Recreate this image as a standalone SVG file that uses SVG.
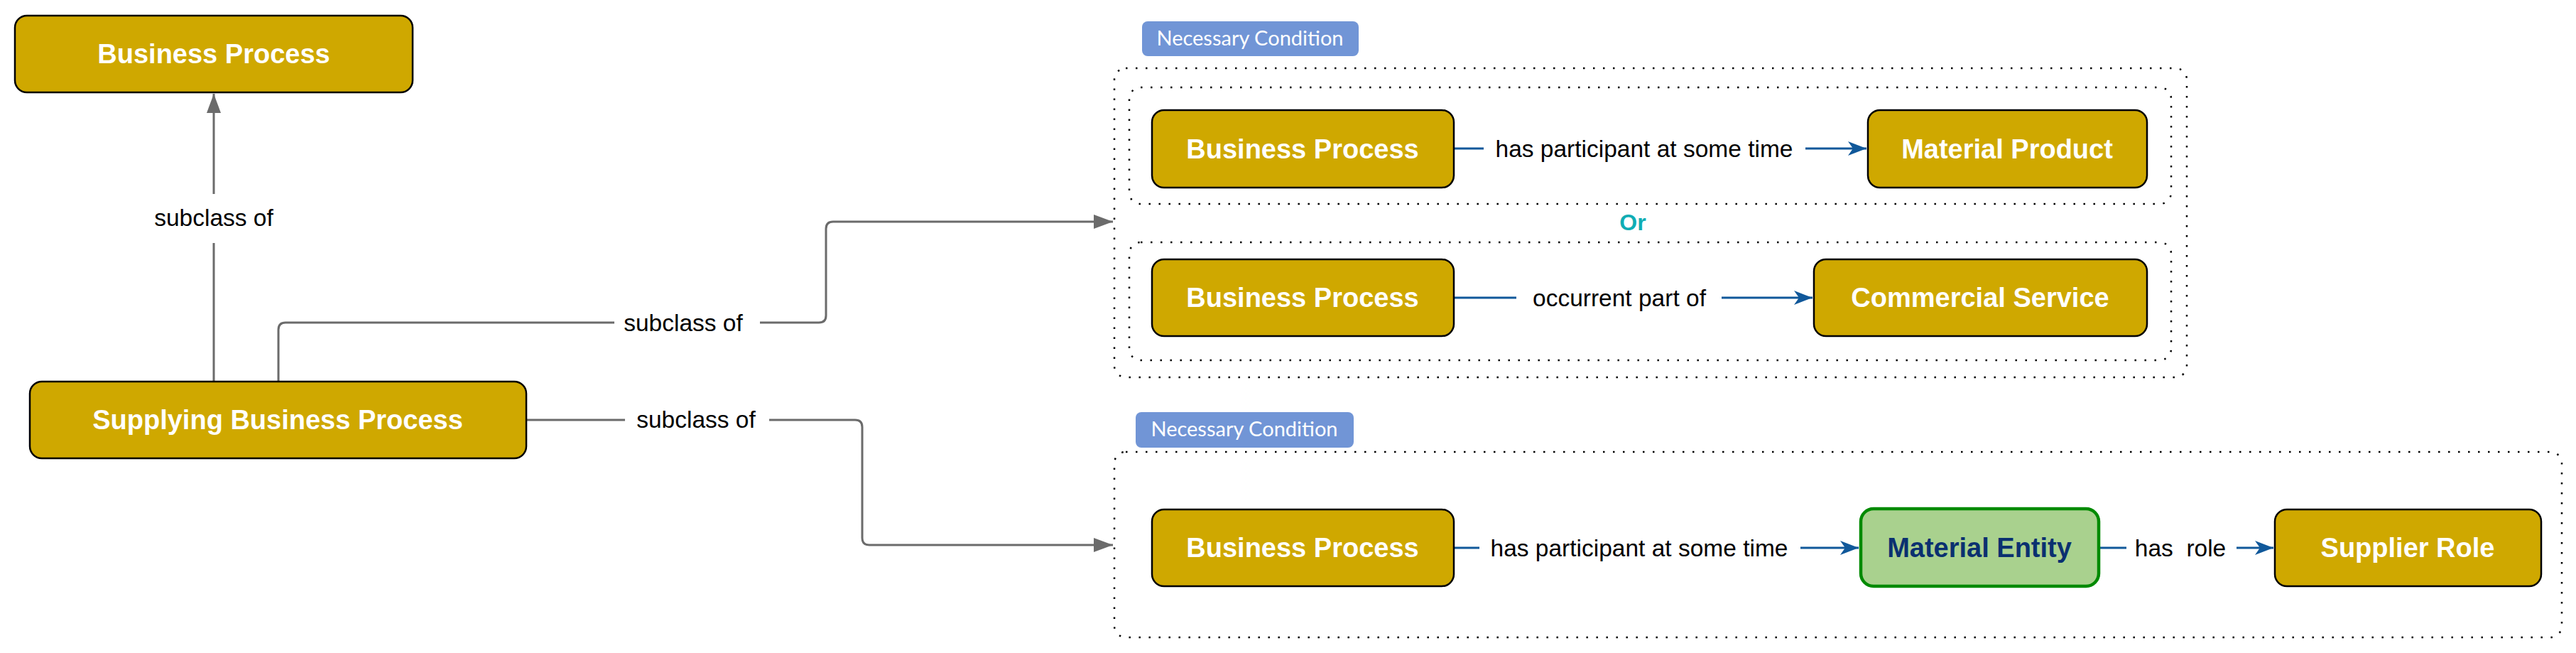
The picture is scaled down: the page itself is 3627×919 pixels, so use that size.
<svg xmlns="http://www.w3.org/2000/svg" width="3627" height="919" viewBox="0 0 3627 919">
<defs>
<style>
.node{fill:#CFA800;stroke:#000;stroke-width:2.5}
.nt{font-family:"Liberation Sans",Arial,sans-serif;font-weight:bold;font-size:38px;fill:#fff;text-anchor:middle}
.me{fill:#A9D18E;stroke:#008A00;stroke-width:4.5}
.met{font-family:"Liberation Sans",Arial,sans-serif;font-weight:bold;font-size:38px;fill:#0A3070;text-anchor:middle}
.lbl{font-family:"Liberation Sans",Arial,sans-serif;font-size:33.5px;fill:#000;text-anchor:middle;white-space:pre}
.gray{fill:none;stroke:#6B6B6B;stroke-width:3;marker-end:url(#ga)}
.blue{fill:none;stroke:#10589A;stroke-width:3;marker-end:url(#ba)}
.dot{fill:none;stroke:#000;stroke-width:2.5;stroke-dasharray:2.5 11.5}
.nc{fill:#7195D6}
.nct{font-family:Lato,"Liberation Sans",sans-serif;font-size:29px;fill:#fff;text-anchor:middle}
.or{font-family:"Liberation Sans",Arial,sans-serif;font-weight:bold;font-size:32px;fill:#10ADB4;text-anchor:middle}
</style>
<marker id="ga" markerUnits="userSpaceOnUse" markerWidth="27" markerHeight="20" refX="27" refY="10" orient="auto">
<path d="M0,0 L27,10 L0,20 z" fill="#6B6B6B"/>
</marker>
<marker id="ba" markerUnits="userSpaceOnUse" markerWidth="26" markerHeight="20" refX="26" refY="10" orient="auto">
<path d="M0,0 L26,10 L0,20 L7,10 z" fill="#10589A"/>
</marker>
</defs>
<rect width="3627" height="919" fill="#fff"/>

<g id="containers">
<rect class="nc" x="1608" y="30" width="305" height="49" rx="8"/>
<text class="nct" x="1760" y="64">Necessary Condition</text>
<rect class="dot" x="1569" y="96" width="1510" height="435" rx="16"/>
<rect class="dot" x="1590" y="123" width="1467" height="164" rx="16"/>
<text class="or" x="2299" y="324">Or</text>
<rect class="dot" x="1590" y="341" width="1467" height="166" rx="16"/>
<rect class="nc" x="1599" y="580" width="307" height="50" rx="8"/>
<text class="nct" x="1752" y="614">Necessary Condition</text>
<rect class="dot" x="1569" y="636" width="2038" height="261" rx="16"/>
</g>

<g id="connectors">
<path class="gray" d="M301,537 V342 M301,273 V132"/>
<text class="lbl" x="301" y="318">subclass of</text>
<path class="gray" d="M392,537 V464 Q392,454 402,454 H865 M1070,454 H1153 Q1163,454 1163,444 V322 Q1163,312 1173,312 H1567"/>
<text class="lbl" x="962" y="466">subclass of</text>
<path class="gray" d="M741,591 H880 M1083,591 H1204 Q1214,591 1214,601 V757 Q1214,767 1224,767 H1567"/>
<text class="lbl" x="980" y="602">subclass of</text>
<path class="blue" d="M2047,209 H2089 M2542,209 H2628"/>
<text class="lbl" x="2315" y="221">has participant at some time</text>
<path class="blue" d="M2047,419 H2135 M2424,419 H2552"/>
<text class="lbl" x="2280" y="431">occurrent part of</text>
<path class="blue" d="M2047,771 H2083 M2535,771 H2617"/>
<text class="lbl" x="2308" y="783">has participant at some time</text>
<path class="blue" d="M2955,771 H2994 M3149,771 H3201"/>
<text class="lbl" x="3070" y="783" xml:space="preserve">has  role</text>
</g>

<g id="n-bp-top">
<rect class="node" x="21" y="22" width="560" height="108" rx="17"/>
<text class="nt" x="301" y="89">Business Process</text>
</g>
<g id="n-supplying">
<rect class="node" x="42" y="537" width="699" height="108" rx="17"/>
<text class="nt" x="391" y="604">Supplying Business Process</text>
</g>
<g id="n-bp-1">
<rect class="node" x="1622" y="155" width="425" height="109" rx="17"/>
<text class="nt" x="1834" y="223">Business Process</text>
</g>
<g id="n-material-product">
<rect class="node" x="2630" y="155" width="393" height="109" rx="17"/>
<text class="nt" x="2826" y="223">Material Product</text>
</g>
<g id="n-bp-2">
<rect class="node" x="1622" y="365" width="425" height="108" rx="17"/>
<text class="nt" x="1834" y="432">Business Process</text>
</g>
<g id="n-commercial-service">
<rect class="node" x="2554" y="365" width="469" height="108" rx="17"/>
<text class="nt" x="2788" y="432">Commercial Service</text>
</g>
<g id="n-bp-3">
<rect class="node" x="1622" y="717" width="425" height="108" rx="17"/>
<text class="nt" x="1834" y="784">Business Process</text>
</g>
<g id="n-material-entity">
<rect class="me" x="2620" y="716" width="335" height="109" rx="18"/>
<text class="met" x="2787" y="784">Material Entity</text>
</g>
<g id="n-supplier-role">
<rect class="node" x="3203" y="717" width="375" height="108" rx="17"/>
<text class="nt" x="3390" y="784">Supplier Role</text>
</g>
</svg>
